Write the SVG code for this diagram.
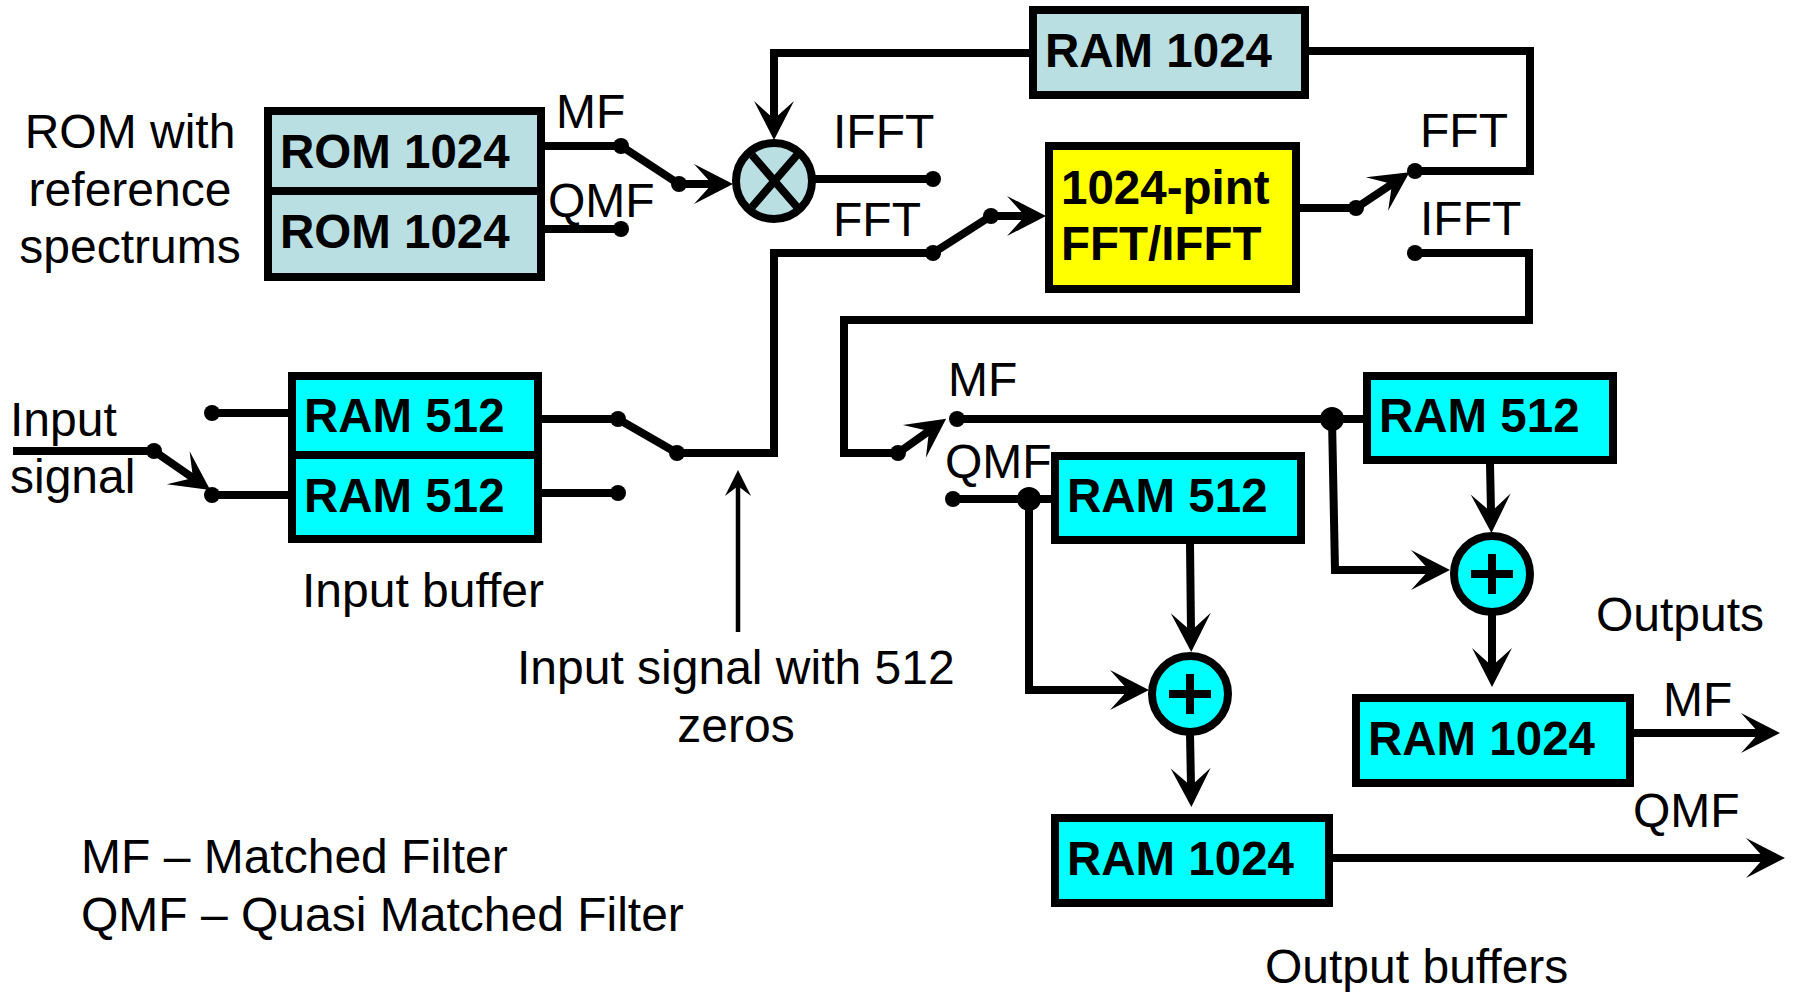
<svg xmlns="http://www.w3.org/2000/svg" width="1794" height="992" viewBox="0 0 1794 992">
<style>
text{font-family:"Liberation Sans",Arial,sans-serif;font-size:48px;fill:#000}
.b{font-weight:bold;font-size:47.5px}
.box{stroke:#000;stroke-width:8}
.light{fill:#b9dfe2}.cyan{fill:#00ffff}.yellow{fill:#ffff00}
.w{fill:none;stroke:#000;stroke-width:8;stroke-linecap:butt;stroke-linejoin:miter}
.dot{fill:#000}
</style>
<defs>
<marker id="head" markerUnits="userSpaceOnUse" markerWidth="42" markerHeight="42" refX="21" refY="21" orient="auto" viewBox="0 0 42 42"><path d="M42 21L3 1L21 21L3 41Z" fill="#000"/></marker>
<marker id="thin" markerUnits="userSpaceOnUse" markerWidth="30" markerHeight="30" refX="15" refY="16" viewBox="0 0 30 30" orient="0"><path d="M15 0L2 26L15 16L28 26Z" fill="#000"/></marker>
</defs>
<rect width="1794" height="992" fill="#fff"/>
<g id="connectors">
<path class="w" d="M545 146H621L679 184H712" style="marker-end:url(#head)"/>
<path class="w" d="M545 229H621"/>
<path class="w" d="M1033 53H774V119" style="marker-end:url(#head)"/>
<path class="w" d="M812 179H933"/>
<path class="w" d="M677 453H774V253H933L991 216H1025" style="marker-end:url(#head)"/>
<path class="w" d="M1300 208H1356L1392 184" style="marker-end:url(#head)"/>
<path class="w" d="M1309 51H1530V171H1415"/>
<path class="w" d="M1415 253H1529V320H844V453H898L929 431" style="marker-end:url(#head)"/>
<path class="w" d="M957 419H1363"/>
<path class="w" d="M1332 419L1335 570H1429" style="marker-end:url(#head)"/>
<path class="w" d="M1490 464L1491 512" style="marker-end:url(#head)"/>
<path class="w" d="M1492 614L1492 666" style="marker-end:url(#head)"/>
<path class="w" d="M1634 733H1759" style="marker-end:url(#head)"/>
<path class="w" d="M953 499H1052"/>
<path class="w" d="M1029 499V690H1128" style="marker-end:url(#head)"/>
<path class="w" d="M1190 544L1191 631" style="marker-end:url(#head)"/>
<path class="w" d="M1190 733L1191 786" style="marker-end:url(#head)"/>
<path class="w" d="M1332 858H1764" style="marker-end:url(#head)"/>
<path class="w" d="M212 413H288"/>
<path class="w" d="M13 451H154L193 478" style="marker-end:url(#head)"/>
<path class="w" d="M212 495H288"/>
<path class="w" d="M542 419H618L677 453"/>
<path class="w" d="M542 493H618"/>
<path d="M738 632V486" fill="none" stroke="#000" stroke-width="4.5" style="marker-end:url(#thin)"/>
<g class="dot">
<circle cx="621" cy="146" r="8"/><circle cx="679" cy="184" r="8"/><circle cx="621" cy="229" r="8"/>
<circle cx="933" cy="179" r="8"/><circle cx="933" cy="253" r="8"/><circle cx="991" cy="216" r="8"/>
<circle cx="1356" cy="208" r="8"/><circle cx="1415" cy="171" r="8"/><circle cx="1415" cy="253" r="8"/>
<circle cx="898" cy="453" r="8"/><circle cx="957" cy="419" r="8"/><circle cx="953" cy="499" r="8"/>
<circle cx="1332" cy="419" r="12"/><circle cx="1029" cy="499" r="12"/>
<circle cx="212" cy="413" r="8"/><circle cx="212" cy="495" r="8"/><circle cx="154" cy="451" r="8"/>
<circle cx="618" cy="419" r="8"/><circle cx="677" cy="453" r="8"/><circle cx="618" cy="493" r="8"/>
</g>
</g>
<g id="rom-top"><rect class="box light" x="268" y="111" width="273" height="80"/><text class="b" x="280" y="168">ROM 1024</text></g>
<g id="rom-bottom"><rect class="box light" x="268" y="191" width="273" height="86"/><text class="b" x="280" y="248">ROM 1024</text></g>
<g id="ram-1024-top"><rect class="box light" x="1033" y="10" width="272" height="85"/><text class="b" x="1045" y="67">RAM 1024</text></g>
<g id="fft"><rect class="box yellow" x="1049" y="146" width="247" height="143"/><text class="b" x="1061" y="204">1024-pint</text><text class="b" x="1061" y="260">FFT/IFFT</text></g>
<g id="input-ram-top"><rect class="box cyan" x="292" y="376" width="246" height="79"/><text class="b" x="304" y="432">RAM 512</text></g>
<g id="input-ram-bottom"><rect class="box cyan" x="292" y="455" width="246" height="84"/><text class="b" x="304" y="512">RAM 512</text></g>
<g id="ram-512-mf"><rect class="box cyan" x="1367" y="376" width="246" height="84"/><text class="b" x="1379" y="432">RAM 512</text></g>
<g id="ram-512-qmf"><rect class="box cyan" x="1055" y="456" width="246" height="84"/><text class="b" x="1067" y="512">RAM 512</text></g>
<g id="ram-1024-mf"><rect class="box cyan" x="1356" y="698" width="274" height="85"/><text class="b" x="1368" y="755">RAM 1024</text></g>
<g id="ram-1024-qmf"><rect class="box cyan" x="1055" y="818" width="274" height="85"/><text class="b" x="1067" y="875">RAM 1024</text></g>
<g id="multiplier"><circle class="box light" cx="774" cy="181" r="38"/><path class="w" d="M752 155L797 207M797 155L752 207"/></g>
<g id="adder-mf"><circle class="box cyan" cx="1492" cy="574" r="38"/><path class="w" d="M1471 574H1513M1492 554V594"/></g>
<g id="adder-qmf"><circle class="box cyan" cx="1190" cy="694" r="38"/><path class="w" d="M1169 694H1211M1190 674V714"/></g>
<g id="labels">
<text x="130" y="148" text-anchor="middle">ROM with</text>
<text x="130" y="206" text-anchor="middle">reference</text>
<text x="130" y="263" text-anchor="middle">spectrums</text>
<text x="556" y="128">MF</text><text x="548" y="217">QMF</text>
<text x="833" y="148">IFFT</text><text x="833" y="236">FFT</text>
<text x="1420" y="147">FFT</text><text x="1420" y="235">IFFT</text>
<text x="948" y="396">MF</text><text x="945" y="478">QMF</text>
<text x="10" y="436">Input</text><text x="10" y="493">signal</text>
<text x="302" y="607">Input buffer</text>
<text x="517" y="684">Input signal with 512</text>
<text x="736" y="742" text-anchor="middle">zeros</text>
<text x="1596" y="631">Outputs</text>
<text x="1663" y="716">MF</text><text x="1633" y="827">QMF</text>
<text x="1265" y="983">Output buffers</text>
<text x="81" y="873">MF – Matched Filter</text>
<text x="81" y="931">QMF – Quasi Matched Filter</text>
</g>
</svg>
